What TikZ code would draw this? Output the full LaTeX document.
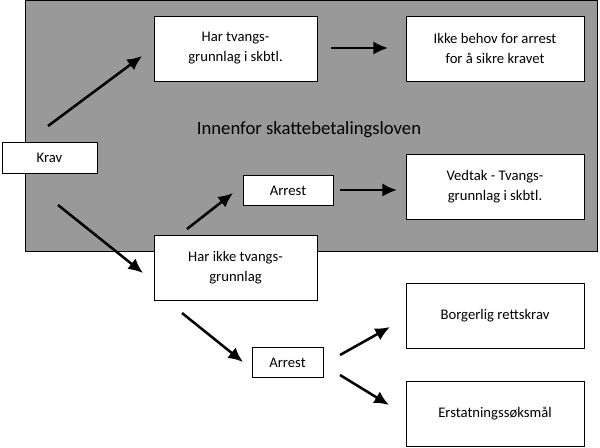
\documentclass[tikz,border=0pt]{standalone}
\usepackage{fontspec}
\setmainfont{Carlito}
\usetikzlibrary{arrows.meta,positioning}
\tikzset{>={Latex[length=11pt,width=10pt]}}
\definecolor{bggray}{rgb}{0.6,0.6,0.6}
\tikzset{
  boks/.style={draw, fill=white, line width=0.6pt, align=center,
    font=\fontsize{11}{15}\selectfont, inner sep=0pt},
  pil/.style={->, line width=1.9pt}
}

\begin{document}
\begin{tikzpicture}[x=0.75pt,y=-0.75pt]
      \def\bw{122.25pt}  % width of wide boxes
      \def\bh{48.75pt}   % height of tall boxes
      \def\sh{23pt}      % height of small boxes
      \useasboundingbox (0,0) rectangle (600,447);
      % grey area = skattebetalingsloven
      \draw[fill=bggray, line width=0.6pt] (25,0) rectangle (597,251);
      \node[font=\fontsize{14}{16}\selectfont] (innenfor) at (309,130) {Innenfor skattebetalingsloven};
      % boxes
      \node[boks, minimum width=\bw, minimum height=\bh] (hartvang) at (235.5,48.5) {Har tvangs-\\grunnlag i skbtl.};
      \node[boks, minimum width=133.5pt, minimum height=\bh] (ikkebehov) at (495,48.5) {Ikke behov for arrest\\for å sikre kravet};
      \node[boks, minimum width=71.25pt, minimum height=\sh] (krav) at (49.5,158) {Krav};
      \node[boks, minimum width=67.5pt, minimum height=\sh] (arrestA) at (288,190.5) {Arrest};
      \node[boks, minimum width=133.5pt, minimum height=\bh] (vedtak) at (495,186.5) {Vedtak - Tvangs-\\grunnlag i skbtl.};
      \node[boks, minimum width=\bw, minimum height=\bh] (harikke) at (235.5,267.5) {Har ikke tvangs-\\grunnlag};
      \node[boks, minimum width=53.25pt, minimum height=\sh] (arrestB) at (287.5,362.5) {Arrest};
      \node[boks, minimum width=133.5pt, minimum height=\bh] (borgerlig) at (495,316) {Borgerlig rettskrav};
      \node[boks, minimum width=133.5pt, minimum height=\bh] (erstatning) at (495,414) {Erstatningssøksmål};
      % arrow ends
      \coordinate (k1) at (48,126);   \coordinate (k2) at (142,56);
      \coordinate (t1) at (331,48);   \coordinate (t2) at (388,48);
      \coordinate (k3) at (58,205);   \coordinate (k4) at (143,273);
      \coordinate (h1) at (187,229);  \coordinate (h2) at (233,193);
      \coordinate (a1) at (340,190);  \coordinate (a2) at (397,190);
      \coordinate (h3) at (182,313);  \coordinate (h4) at (243,362);
      \coordinate (b1) at (340,355);  \coordinate (b2) at (390,327);
      \coordinate (b3) at (340,375);  \coordinate (b4) at (389,405);
      \draw[pil] (k1) -- (k2);
      \draw[pil] (t1) -- (t2);
      \draw[pil] (k3) -- (k4);
      \draw[pil] (h1) -- (h2);
      \draw[pil] (a1) -- (a2);
      \draw[pil] (h3) -- (h4);
      \draw[pil] (b1) -- (b2);
      \draw[pil] (b3) -- (b4);
\end{tikzpicture}
\end{document}
